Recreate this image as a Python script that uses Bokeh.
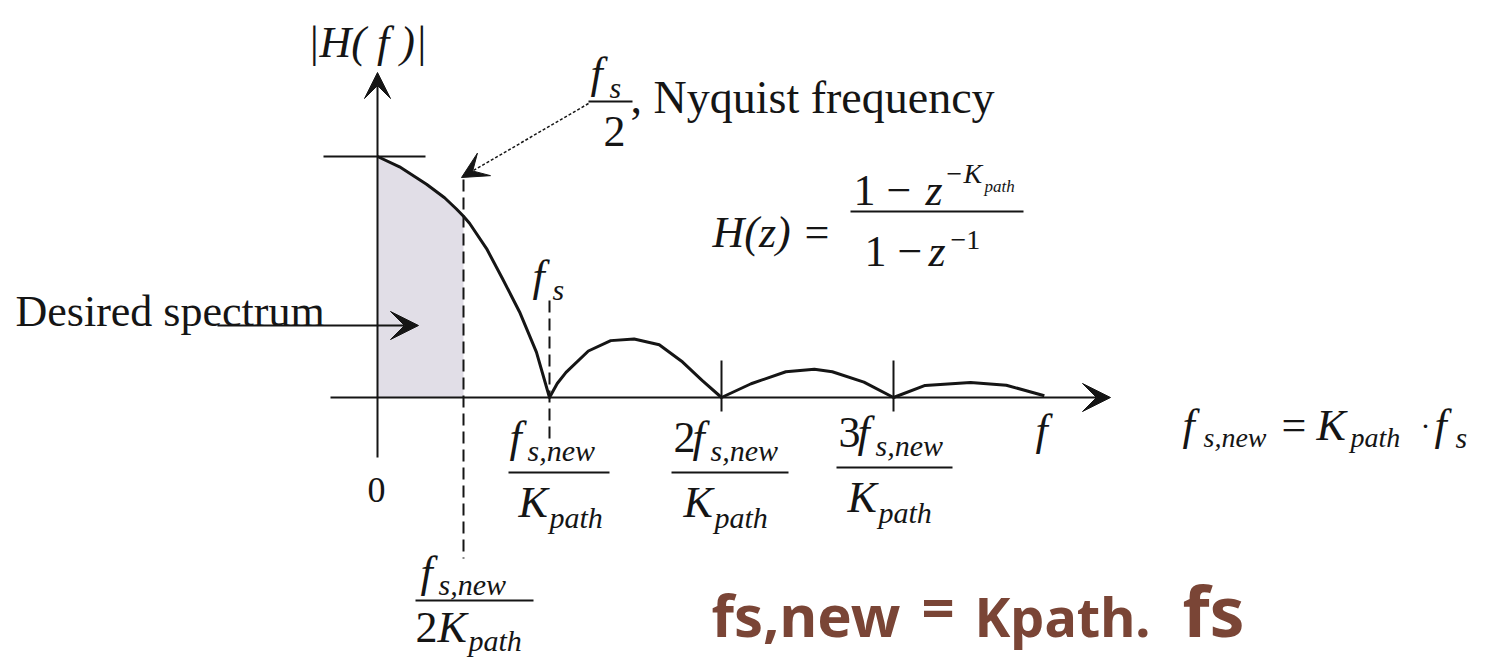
from bokeh.plotting import figure
from bokeh.models import Range1d, Arrow, VeeHead, ColumnDataSource
from bokeh.embed import file_html
from bokeh.resources import INLINE

# |H(f)| of the comb (moving-sum) filter, f in units of f_s,new / K_path
main_f = [0.0, 0.128, 0.285, 0.39, 0.459, 0.5, 0.535, 0.634, 0.727, 0.826, 0.924, 1.0]
main_a = [1.0, 0.957, 0.885, 0.829, 0.782, 0.752, 0.723, 0.618, 0.493, 0.355, 0.188, 0.0]
lobe1_f = [1.0, 1.045, 1.096, 1.226, 1.356, 1.492, 1.638, 1.774, 1.887, 2.0]
lobe1_a = [0.0, 0.058, 0.104, 0.193, 0.236, 0.243, 0.219, 0.147, 0.071, 0.0]
lobe2_f = [2.0, 2.172, 2.374, 2.54, 2.644, 2.828, 3.0]
lobe2_a = [0.0, 0.057, 0.107, 0.117, 0.107, 0.064, 0.0]
lobe3_f = [3.0, 3.184, 3.448, 3.656, 3.877]
lobe3_a = [0.0, 0.05, 0.062, 0.051, 0.007]

nyquist_f = 0.5          # f_s,new / (2 K_path)  ==  f_s / 2
null_ticks = [2, 3]      # 2 f_s,new/K_path, 3 f_s,new/K_path
fs_f = 1.0               # f_s,new / K_path  ==  f_s
peak_a = 1.0

W, H = 1486, 659
X0, SX = 377.0, 172.0    # screen x of f=0, pixels per unit f
Y0, SY = 397.0, 241.0    # screen y of |H|=0, pixels per unit |H|


def fx(px):
    return (px - X0) / SX


def fy(py):
    return (Y0 - py) / SY


p = figure(width=W, height=H, output_backend="svg", toolbar_location=None,
           x_range=Range1d(fx(0), fx(W)), y_range=Range1d(fy(H), fy(0)),
           x_axis_location=None, y_axis_location=None, min_border=0)
p.outline_line_color = None
p.background_fill_color = "white"
p.border_fill_color = "white"
p.grid.visible = False
p.xgrid.grid_line_color = None
p.ygrid.grid_line_color = None

INK = "#151515"

# shaded pass band 0 .. f_s/2
band_f = [f for f in main_f if f <= nyquist_f]
band_a = main_a[:len(band_f)]
p.varea(x=band_f, y1=[0] * len(band_f), y2=band_a, fill_color="#e1dee7")

# magnitude response
curve_f = main_f + lobe1_f[1:] + lobe2_f[1:] + lobe3_f[1:]
curve_a = main_a + lobe1_a[1:] + lobe2_a[1:] + lobe3_a[1:]
p.line(curve_f, curve_a, line_color=INK, line_width=3, line_join="round")

# axes with arrow heads
p.add_layout(Arrow(end=VeeHead(size=28, fill_color=INK, line_color=INK),
                   x_start=fx(330), y_start=0, x_end=fx(1110), y_end=0,
                   line_color=INK, line_width=2))
p.add_layout(Arrow(end=VeeHead(size=26, fill_color=INK, line_color=INK),
                   x_start=0, y_start=fy(457), x_end=0, y_end=fy(72),
                   line_color=INK, line_width=2))

# level of the DC gain
p.segment(x0=[fx(323)], y0=[peak_a], x1=[fx(425)], y1=[peak_a],
          line_color=INK, line_width=2)

# dashed markers at f_s/2 and f_s
p.segment(x0=[nyquist_f], y0=[fy(179)], x1=[nyquist_f], y1=[fy(558)],
          line_color=INK, line_width=2, line_dash="12 6")
p.segment(x0=[fs_f], y0=[fy(300)], x1=[fs_f], y1=[fy(438)],
          line_color=INK, line_width=2, line_dash="12 6")

# solid ticks at the higher nulls
p.segment(x0=null_ticks, y0=[fy(360)] * 2, x1=null_ticks, y1=[fy(411)] * 2,
          line_color=INK, line_width=2)

# pointer arrows
p.add_layout(Arrow(end=VeeHead(size=26, fill_color=INK, line_color=INK),
                   x_start=fx(588), y_start=fy(103), x_end=fx(461), y_end=fy(177),
                   line_color=INK, line_width=1.5, line_dash="3 2"))
p.add_layout(Arrow(end=VeeHead(size=28, fill_color=INK, line_color=INK),
                   x_start=fx(217), y_start=fy(325), x_end=fx(418), y_end=fy(325),
                   line_color=INK, line_width=2))

# fraction bars
bars = [(588, 632, 101), (850, 1023, 211), (508, 609, 472), (671, 788, 472),
        (836, 952, 467), (415, 533, 600)]
p.segment(x0=[fx(b[0]) for b in bars], y0=[fy(b[2]) for b in bars],
          x1=[fx(b[1]) for b in bars], y1=[fy(b[2]) for b in bars],
          line_color=INK, line_width=2)

SERIF = "Liberation Serif"
HAND = "Noto Sans"
BROWN = "#7a4536"
I, N, B = "italic", "normal", "bold"

# (text, left x, baseline y, size px, style, font, colour)
pieces = [
    ("|H( f )|", 307, 57, 44, I, SERIF, INK),
    ("f", 590, 88, 44, I, SERIF, INK),
    ("s", 609, 97, 30, I, SERIF, INK),
    ("2", 603, 146, 44, N, SERIF, INK),
    (", Nyquist frequency", 630, 113, 46, N, SERIF, INK),
    ("H(z) =", 712, 247, 44, I, SERIF, INK),
    ("1 \u2212", 853, 205, 44, N, SERIF, INK),
    ("z", 925, 205, 44, I, SERIF, INK),
    ("\u2212K", 944, 183, 28, I, SERIF, INK),
    ("path", 984, 192, 17, I, SERIF, INK),
    ("1 \u2212", 864, 266, 44, N, SERIF, INK),
    ("z", 928, 266, 44, I, SERIF, INK),
    ("\u22121", 950, 249, 28, N, SERIF, INK),
    ("Desired spectrum", 15, 326, 44, N, SERIF, INK),
    ("f", 532, 291, 44, I, SERIF, INK),
    ("s", 552, 299, 30, I, SERIF, INK),
    ("0", 367, 502, 36, N, SERIF, INK),
    ("f", 509, 452, 44, I, SERIF, INK),
    ("s,new", 527, 460, 30, I, SERIF, INK),
    ("K", 518, 517, 44, I, SERIF, INK),
    ("path", 549, 527, 30, I, SERIF, INK),
    ("2", 673, 452, 44, N, SERIF, INK),
    ("f", 692, 452, 44, I, SERIF, INK),
    ("s,new", 710, 460, 30, I, SERIF, INK),
    ("K", 683, 517, 44, I, SERIF, INK),
    ("path", 714, 527, 30, I, SERIF, INK),
    ("3", 838, 447, 44, N, SERIF, INK),
    ("f", 857, 447, 44, I, SERIF, INK),
    ("s,new", 875, 455, 30, I, SERIF, INK),
    ("K", 847, 512, 44, I, SERIF, INK),
    ("path", 878, 522, 30, I, SERIF, INK),
    ("f", 420, 587, 44, I, SERIF, INK),
    ("s,new", 438, 594, 30, I, SERIF, INK),
    ("2", 415, 642, 44, N, SERIF, INK),
    ("K", 437, 642, 44, I, SERIF, INK),
    ("path", 468, 650, 30, I, SERIF, INK),
    ("f", 1035, 445, 44, I, SERIF, INK),
    ("f", 1182, 440, 44, I, SERIF, INK),
    ("s,new", 1203, 447, 28, I, SERIF, INK),
    ("=", 1281, 440, 44, N, SERIF, INK),
    ("K", 1316, 440, 44, I, SERIF, INK),
    ("path", 1350, 447, 28, I, SERIF, INK),
    ("\u00b7", 1420, 435, 30, N, SERIF, INK),
    ("f", 1434, 440, 44, I, SERIF, INK),
    ("s", 1455, 447, 30, I, SERIF, INK),
    ("fs,new", 711, 634, 58, B, HAND, BROWN),
    ("=", 921, 626, 58, B, HAND, BROWN),
    ("Kpath.", 974, 634, 54, B, HAND, BROWN),
    ("fs", 1182, 634, 70, B, HAND, BROWN),
]

# the text glyph's "alphabetic" anchor sits about 0.35 em above the glyph baseline
LIFT = 0.35

src = ColumnDataSource(dict(
    x=[fx(t[1]) for t in pieces],
    y=[fy(t[2] - LIFT * t[3]) for t in pieces],
    text=[t[0] for t in pieces],
    size=["%dpx" % t[3] for t in pieces],
    style=[t[4] for t in pieces],
    font=[t[5] for t in pieces],
    color=[t[6] for t in pieces],
))
p.text(x="x", y="y", text="text", text_font="font", text_font_size="size",
       text_font_style="style", text_color="color", text_align="left",
       text_baseline="alphabetic", source=src)

open("out.html", "w").write(file_html(p, INLINE))
